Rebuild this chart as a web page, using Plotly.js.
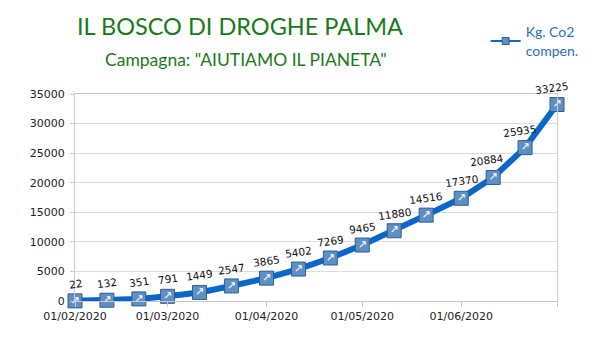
<!DOCTYPE html>
<html><head><meta charset="utf-8">
<script src="https://cdn.plot.ly/plotly-3.0.1.min.js"></script>
<style>html,body{margin:0;padding:0;background:#fff}#c{width:600px;height:351px}</style>
</head><body><div id="c"></div>
<script>
const dates = ["2020-02-01","2020-02-11","2020-02-21","2020-03-01","2020-03-11","2020-03-21","2020-04-01","2020-04-11","2020-04-21","2020-05-01","2020-05-11","2020-05-21","2020-06-01","2020-06-11","2020-06-21","2020-07-01"];
const values = [22,132,351,791,1449,2547,3865,5402,7269,9465,11880,14516,17370,20884,25935,33225];
const tickVals = ["2020-02-01","2020-03-01","2020-04-01","2020-05-01","2020-06-01","2020-07-01"];
const tickText = ["01/02/2020","01/03/2020","01/04/2020","01/05/2020","01/06/2020",""];
const seriesName = "Kg. Co2<br>compen.";
const titleText = "IL BOSCO DI DROGHE PALMA";
const subtitleText = 'Campagna: "AIUTIAMO IL PIANETA"';

const font = "Lato, 'Open Sans', sans-serif";
const numFont = "'DejaVu Sans', sans-serif";
const traces = [
  {x: dates, y: values, type: "scatter", mode: "lines+markers+text", showlegend: false,
   line: {color: "#0a66c8", width: 6},
   marker: {symbol: "square", size: 14, color: "#5f8fc4", line: {color: "#2f5f95", width: 1}},
   text: values.map(() => "\u2197"), textposition: "middle center",
   textfont: {family: numFont, size: 11, color: "#ffffff"},
   cliponaxis: false, hoverinfo: "skip"},
  {x: [null], y: [null], type: "scatter", mode: "lines+markers", name: seriesName,
   line: {color: "#0a66c8", width: 2},
   marker: {symbol: "square", size: 7, color: "#5f8fc4", line: {color: "#2f5f95", width: 1}}}
];
const annotations = dates.map((d, i) => ({
  x: d, y: values[i], xref: "x", yref: "y", text: String(values[i]),
  showarrow: false, textangle: -8, yshift: 17, xshift: i > 12 ? -6 : 0,
  font: {family: numFont, size: 10.5, color: "#111"}
}));
annotations.push({text: subtitleText, xref: "paper", yref: "paper", x: 0.355, y: 1.165,
  xanchor: "center", yanchor: "middle", showarrow: false,
  font: {family: font, size: 17.5, color: "#1a7a1a"}});
const layout = {
  width: 600, height: 351,
  margin: {l: 75, r: 43, t: 94, b: 50},
  paper_bgcolor: "#fff", plot_bgcolor: "#fff",
  title: {text: titleText, x: 0.40, xanchor: "center", y: 0.925, yanchor: "middle",
          font: {family: font, size: 23.5, color: "#1a7a1a"}},
  showlegend: true,
  legend: {x: 0.852, y: 1.375, xanchor: "left", yanchor: "top", bgcolor: "rgba(0,0,0,0)",
           font: {family: font, size: 14, color: "#1f6fc4"}, itemwidth: 30},
  xaxis: {type: "date", range: ["2020-02-01", "2020-07-01"], tickvals: tickVals, ticktext: tickText,
          showgrid: false, showline: true, mirror: true, linecolor: "#c8c8c8", linewidth: 1,
          ticks: "outside", ticklen: 5, tickcolor: "#c8c8c8",
          tickfont: {family: numFont, size: 11, color: "#222"}, zeroline: false},
  yaxis: {range: [0, 35000], dtick: 5000, tickformat: "d", showgrid: true, gridcolor: "#dcdcdc",
          showline: true, mirror: true, linecolor: "#c8c8c8", ticks: "outside", ticklen: 4,
          ticklabelstandoff: 3,
          tickcolor: "#c8c8c8", tickfont: {family: numFont, size: 11, color: "#222"}, zeroline: false},
  annotations: annotations
};
Plotly.newPlot("c", traces, layout, {displayModeBar: false, staticPlot: true});
</script></body></html>
